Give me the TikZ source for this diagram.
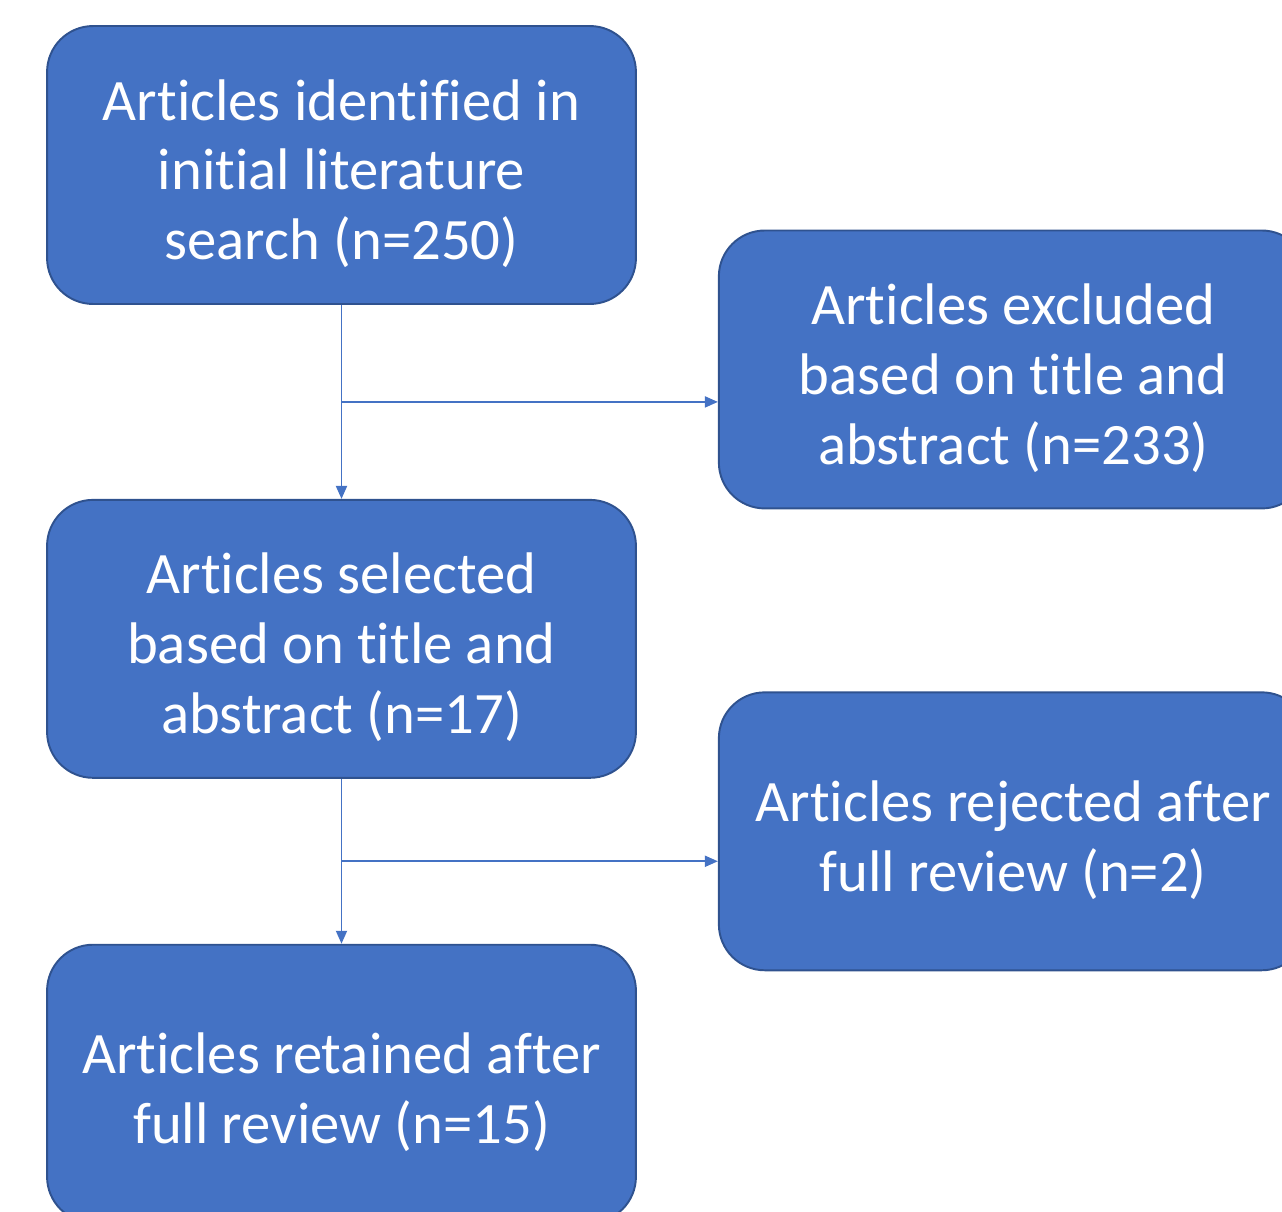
\documentclass[tikz,border=0pt]{standalone}
\usepackage{fontspec}
\setmainfont{Carlito}[Ligatures={NoCommon}]
\usetikzlibrary{arrows.meta,positioning,calc}

\definecolor{boxblue}{HTML}{4472C4}
\definecolor{boxedge}{HTML}{2F528F}
\newcommand{\topstrut}{\rule{0pt}{33pt}}

\begin{document}
\begin{tikzpicture}[x=0.02cm,y=-0.02cm,>={Triangle[length=0.26cm,width=0.22cm]},align=center,
  flow box/.style={rectangle,rounded corners=0.92cm,fill=boxblue,draw=boxedge,line width=1.1pt,text=white,
    minimum width=11.78cm,minimum height=5.56cm,inner sep=0pt,font=\fontsize{33.4}{39.8}\selectfont},
  link/.style={->,draw=boxblue,line width=1.1pt}]
  \useasboundingbox (0,0) rectangle (1282,1211);
  \clip (0,0) rectangle (1282,1211);

  \node[flow box] (ident) at (341.5,165) {\topstrut Articles identified in\\initial literature\\search (n=250)};
  \node[flow box] (sel) [below=3.88cm of ident] {\topstrut Articles selected\\based on title and\\abstract (n=17)};
  \node[flow box] (ret) [below=3.3cm of sel] {\topstrut Articles retained after\\full review (n=15)};
  \node[flow box] (excl) [right=1.62cm of ident,yshift=-4.09cm] {\topstrut Articles excluded\\based on title and\\abstract (n=233)};
  \node[flow box] (rej) [right=1.62cm of sel,yshift=-3.85cm] {\topstrut Articles rejected after\\full review (n=2)};

  \coordinate (fork1) at ($(ident.south)!0.5!(sel.north)$);
  \coordinate (fork2) at ($(sel.south)!0.5!(ret.north)$);

  \draw[link] (ident) -- (sel);
  \draw[link] (fork1) -- (fork1 -| excl.west);
  \draw[link] (sel) -- (ret);
  \draw[link] (fork2) -- (fork2 -| rej.west);
\end{tikzpicture}
\end{document}
